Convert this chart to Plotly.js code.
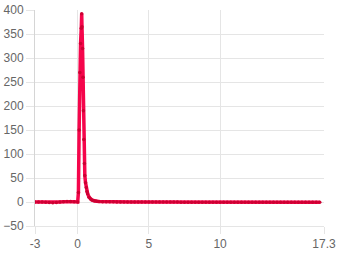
<!DOCTYPE html>
<html><head><meta charset="utf-8">
<script src="https://cdn.plot.ly/plotly-3.0.1.min.js"></script>
<style>html,body{margin:0;padding:0;background:#fff}#c{width:340px;height:255px}</style>
</head><body><div id="c"></div>
<script>
var xs = [-3,-2.75,-2.5,-2.25,-2,-1.75,-1.5,-1.25,-1,-0.75,-0.5,-0.25,0,0.05,0.1,0.15,0.2,0.25,0.28,0.3,0.34,0.37,0.4,0.43,0.47,0.5,0.55,0.6,0.65,0.7,0.8,0.9,1.0,1.1,1.2,1.35,1.5,1.75,2,2.25,2.5,2.75,3,3.25,3.5,3.75,4,4.25,4.5,4.75,5,5.25,5.5,5.75,6,6.25,6.5,6.75,7,7.25,7.5,7.75,8,8.25,8.5,8.75,9,9.25,9.5,9.75,10,10.25,10.5,10.75,11,11.25,11.5,11.75,12,12.25,12.5,12.75,13,13.25,13.5,13.75,14,14.25,14.5,14.75,15,15.25,15.5,15.75,16,16.25,16.5,16.75,17,17.3];
var ys = [0,0,0,-0.5,-1,-1.5,-1,0,0.5,1,1,0.5,0,20,150,270,330,362,392,365,320,260,190,130,80,55,40,30,22,17,10,6,4,3,2,1.5,1,0.7,0.5,0.4,0.3,0.2,0.2,0.1,0.1,0,0,0,0,0,0,0,0,0,0,0,-0.2,-0.2,-0.2,-0.3,-0.3,-0.3,-0.3,-0.3,-0.3,-0.3,-0.3,-0.3,-0.3,-0.3,-0.3,-0.3,-0.3,-0.3,-0.3,-0.3,-0.3,-0.3,-0.3,-0.3,-0.3,-0.3,-0.3,-0.3,-0.3,-0.3,-0.3,-0.3,-0.3,-0.3,-0.3,-0.3,-0.3,-0.3,-0.3,-0.3,-0.3,-0.3,-0.3];
var xTicks = [-3,0,5,10,17.3];
var xTickText = ['-3','0','5','10','17.3'];

Plotly.newPlot('c', [{
  x: xs, y: ys, type: 'scatter', mode: 'lines+markers',
  line: {color: 'rgb(245,5,75)', width: 3.5},
  marker: {color: 'rgb(205,0,50)', size: 3.5}
}], {
  width: 340, height: 255,
  margin: {l: 35, r: 16, t: 10, b: 29},
  paper_bgcolor: '#fff', plot_bgcolor: '#fff',
  showlegend: false,
  font: {family: 'Arial, Liberation Sans, sans-serif', size: 12, color: '#666'},
  xaxis: {range: [-3, 17.3], tickvals: xTicks, ticktext: xTickText,
    showgrid: true, gridcolor: '#e5e5e5', zeroline: false,
    ticks: 'outside', ticklen: 7, tickcolor: '#e5e5e5',
    showline: true, linecolor: '#e5e5e5'},
  yaxis: {range: [-50, 400], dtick: 50, tick0: 0,
    showgrid: true, gridcolor: '#e5e5e5', zeroline: false,
    ticks: 'outside', ticklen: 8, tickcolor: '#e5e5e5',
    showline: true, linecolor: '#d5d5d5'}
}, {displayModeBar: false, staticPlot: true});
</script></body></html>
